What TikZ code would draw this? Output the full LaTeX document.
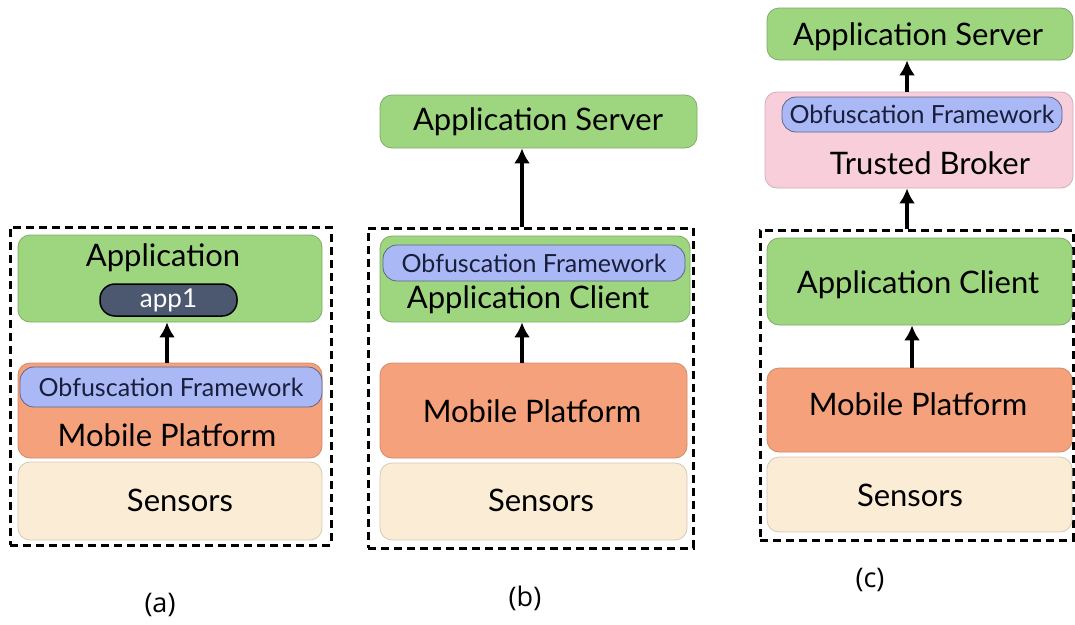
\documentclass[tikz,border=0pt]{standalone}
\usepackage{fontspec}
\setmainfont{Lato}
\newfontfamily\tagfont{Open Sans}
\usetikzlibrary{arrows.meta}

\definecolor{appgreen}{RGB}{158,214,128}
\definecolor{mobileorange}{RGB}{245,162,124}
\definecolor{sensorbeige}{RGB}{251,236,214}
\definecolor{obfblue}{RGB}{170,184,245}
\definecolor{brokerpink}{RGB}{247,206,218}
\definecolor{appdark}{RGB}{76,87,112}
\definecolor{obftext}{RGB}{25,30,60}

\tikzset{
  layerbox/.style={rounded corners=12pt, inner sep=0pt, line width=0.8pt},
  greenbox/.style={layerbox, fill=appgreen, draw=appgreen!80!black},
  orangebox/.style={layerbox, fill=mobileorange, draw=mobileorange!85!black},
  sensorbox/.style={layerbox, fill=sensorbeige, draw=sensorbeige!85!black},
  pinkbox/.style={layerbox, fill=brokerpink, draw=brokerpink!85!black},
  obfpill/.style={rounded corners=14pt, inner sep=0pt, fill=obfblue, draw=obfblue!55!black,
    line width=0.8pt, text=obftext, font=\fontsize{25}{29}\selectfont},
  apppill/.style={rounded corners=15pt, inner sep=0pt, fill=appdark, draw=black,
    line width=1.5pt, text=white, font=\fontsize{26}{30}\selectfont},
  framebox/.style={draw=black, line width=3pt, dash pattern=on 8pt off 5pt, inner sep=0pt},
  bigtext/.style={font=\fontsize{31}{36}\selectfont, inner sep=0pt},
  tagtext/.style={font=\tagfont\fontsize{27}{31}\selectfont, inner sep=0pt},
  flow/.style={line width=4pt, -{Latex[length=15pt,width=16pt]}}
}

\begin{document}
\begin{tikzpicture}[x=1pt,y=1pt,yscale=-1]
\useasboundingbox (0,0) rectangle (1075,624);

% (a) obfuscation inside the platform
\node[framebox, minimum width=321, minimum height=318] (frameA) at (170.5,386) {};
\node[greenbox, minimum width=304, minimum height=87] (appA) at (170,278.5) {};
\node[bigtext] (appAtext) at (163,258) {Application};
\node[apppill, minimum width=137, minimum height=32] (app1) at (168.5,300) {app1};
\node[orangebox, minimum width=304, minimum height=95] (mpA) at (170,410.5) {};
\node[obfpill, minimum width=302, minimum height=40] (obfA) at (171,387) {Obfuscation Framework};
\node[bigtext] (mpAtext) at (167,435) {Mobile Platform};
\node[sensorbox, minimum width=304, minimum height=78] (senA) at (170,501) {};
\node[bigtext] (senAtext) at (180,500) {Sensors};
\coordinate (upA) at (167,0);
\draw[flow] (upA |- mpA.north) -- (upA |- appA.south);
\node[tagtext] (tagA) at (160,605) {(a)};

% (b) obfuscation inside the client
\node[greenbox, minimum width=317, minimum height=53] (serverB) at (538.5,121.5) {};
\node[bigtext] (serverBtext) at (538,122) {Application Server};
\node[framebox, minimum width=325, minimum height=320] (frameB) at (530.5,388) {};
\node[greenbox, minimum width=310, minimum height=86] (clientB) at (535,279) {};
\node[obfpill, minimum width=302, minimum height=36] (obfB) at (534,263) {Obfuscation Framework};
\node[bigtext] (clientBtext) at (528,300) {Application Client};
\node[orangebox, minimum width=307, minimum height=95] (mpB) at (533.5,410.5) {};
\node[bigtext] (mpBtext) at (532,411) {Mobile Platform};
\node[sensorbox, minimum width=307, minimum height=77] (senB) at (533.5,501.5) {};
\node[bigtext] (senBtext) at (541,500) {Sensors};
\coordinate (upB) at (522,0);
\draw[flow] (upB |- mpB.north) -- (upB |- clientB.south);
\draw[flow] (upB |- frameB.north) -- (upB |- serverB.south);
\node[tagtext] (tagB) at (525,598) {(b)};

% (c) obfuscation in a trusted broker
\node[greenbox, minimum width=306, minimum height=52] (serverC) at (920,34) {};
\node[bigtext] (serverCtext) at (918,37) {Application Server};
\node[pinkbox, minimum width=308, minimum height=96] (brokerC) at (919,140) {};
\node[obfpill, minimum width=280, minimum height=35] (obfC) at (922,114.5) {Obfuscation Framework};
\node[bigtext] (brokerCtext) at (930,163) {Trusted Broker};
\node[framebox, minimum width=313, minimum height=310] (frameC) at (916.5,385) {};
\node[greenbox, minimum width=305, minimum height=87] (clientC) at (919.5,281.5) {};
\node[bigtext] (clientCtext) at (918,285) {Application Client};
\node[orangebox, minimum width=305, minimum height=84] (mpC) at (919.5,410) {};
\node[bigtext] (mpCtext) at (918,404) {Mobile Platform};
\node[sensorbox, minimum width=305, minimum height=75] (senC) at (919.5,494.5) {};
\node[bigtext] (senCtext) at (910,495) {Sensors};
\coordinate (upC) at (907,0);
\coordinate (upC2) at (912,0);
\draw[flow] (upC |- brokerC.north) -- (upC |- serverC.south);
\draw[flow] (upC |- frameC.north) -- (upC |- brokerC.south);
\draw[flow] (upC2 |- mpC.north) -- (upC2 |- clientC.south);
\node[tagtext] (tagC) at (870,580) {(c)};

\end{tikzpicture}
\end{document}
